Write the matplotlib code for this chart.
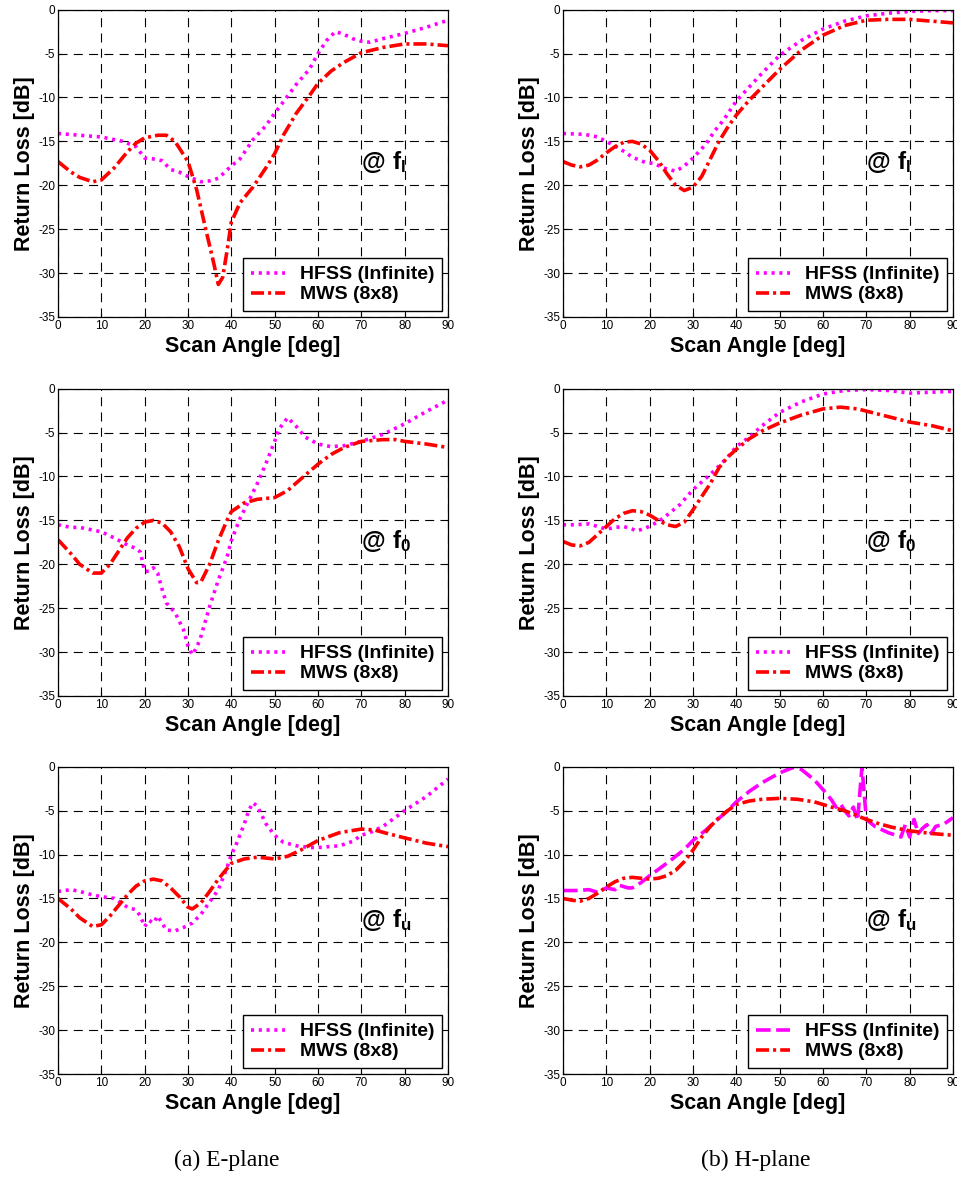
import numpy as np
import matplotlib.pyplot as plt

plt.rcParams['font.family'] = ['Liberation Sans', 'DejaVu Sans']
plt.rcParams['mathtext.fontset'] = 'custom'
plt.rcParams['mathtext.bf'] = 'Liberation Sans:bold'
plt.rcParams['mathtext.rm'] = 'Liberation Sans'
plt.rcParams['lines.scale_dashes'] = False
plt.rcParams['axes.unicode_minus'] = False

# ---- E-plane, f_l
e_l_hfss_x = [0, 5, 10, 15, 18, 20, 22, 24, 26, 28, 30, 33, 35, 37, 40, 42, 45, 48, 50, 52,
              55, 58, 60, 62, 64, 66, 68, 70, 72, 75, 80, 85, 90]
e_l_hfss_y = [-14.1, -14.3, -14.5, -15.0, -15.6, -16.9, -17.0, -17.2, -18.2, -18.5,
              -19.0, -19.6, -19.5, -19.2, -17.8, -17.0, -14.8, -13.2, -11.8, -10.5,
              -8.5, -6.8, -5.0, -3.5, -2.5, -2.8, -3.3, -3.6, -3.7, -3.3, -2.7, -2.0, -1.2]
e_l_mws_x = [0, 3, 5, 8, 10, 13, 16, 18, 20, 23, 25, 27, 30, 32, 34, 36, 37, 38, 39, 40,
             42, 45, 48, 50, 52, 55, 58, 60, 63, 66, 70, 75, 80, 85, 90]
e_l_mws_y = [-17.3, -18.5, -19.1, -19.6, -19.4, -18.0, -16.2, -15.2, -14.6, -14.3,
             -14.3, -15.0, -17.3, -20.5, -24.8, -29.0, -31.3, -30.5, -27.5, -24.2,
             -22.0, -20.2, -18.0, -16.4, -14.3, -11.8, -9.8, -8.4, -7.0, -6.0,
             -4.9, -4.3, -3.9, -3.9, -4.1]

# ---- H-plane, f_l
h_l_hfss_x = [0, 5, 8, 10, 13, 16, 19, 21, 23, 26, 28, 30, 33, 35, 37, 40, 43, 46, 50, 55,
              60, 65, 70, 75, 80, 85, 90]
h_l_hfss_y = [-14.1, -14.2, -14.5, -15.0, -15.8, -16.8, -17.4, -17.5, -18.0, -18.4,
              -17.8, -16.9, -15.3, -13.8, -12.6, -10.4, -8.8, -7.2, -5.2, -3.5,
              -2.2, -1.3, -0.7, -0.4, -0.2, -0.1, -0.1]
h_l_mws_x = [0, 2, 4, 6, 8, 10, 12, 14, 16, 18, 20, 22, 24, 26, 28, 30, 32, 34, 36, 38, 40,
             43, 46, 50, 55, 60, 65, 70, 75, 80, 85, 90]
h_l_mws_y = [-17.3, -17.7, -17.9, -17.7, -17.1, -16.3, -15.6, -15.1, -15.0, -15.3,
             -16.0, -17.2, -18.7, -20.0, -20.6, -20.2, -19.0, -17.0, -15.0, -13.4, -12.0,
             -10.3, -8.8, -6.8, -4.6, -2.9, -1.8, -1.2, -1.1, -1.1, -1.3, -1.5]

# ---- E-plane, f_0
e_0_hfss_x = [0, 3, 5, 8, 10, 13, 16, 18, 19, 20, 21, 22, 23, 24, 25, 27, 29, 30, 31, 32,
              33, 35, 37, 39, 40, 42, 44, 46, 48, 50, 51, 53, 55, 57, 60, 63, 66, 70, 75, 80,
              85, 90]
e_0_hfss_y = [-15.5, -15.8, -15.8, -16.1, -16.3, -17.0, -17.8, -18.2, -18.6, -20.8,
              -20.8, -20.4, -21.0, -22.8, -24.4, -25.5, -27.5, -29.3, -30.3, -29.5,
              -28.2, -24.8, -21.8, -19.2, -17.3, -14.8, -12.8, -10.8, -8.5, -6.0,
              -4.6, -3.3, -4.3, -5.5, -6.3, -6.6, -6.5, -6.0, -5.2, -4.0, -2.6, -1.3]
e_0_mws_x = [0, 3, 5, 8, 10, 12, 14, 16, 18, 20, 22, 24, 26, 28, 30, 32, 33, 35, 37, 39,
             40, 43, 46, 50, 53, 56, 60, 63, 66, 70, 75, 78, 80, 85, 90]
e_0_mws_y = [-17.2, -18.8, -20.0, -21.0, -21.0, -20.0, -18.5, -17.0, -15.9, -15.2,
             -15.0, -15.3, -16.3, -18.0, -20.5, -22.1, -22.0, -20.0, -17.3, -15.0,
             -14.0, -13.0, -12.6, -12.4, -11.6, -10.3, -8.6, -7.5, -6.7, -6.0,
             -5.8, -5.8, -6.0, -6.3, -6.7]

# ---- H-plane, f_0
h_0_hfss_x = [0, 3, 6, 8, 10, 12, 14, 16, 17, 19, 21, 23, 25, 27, 30, 33, 35, 38, 40, 43,
              46, 50, 55, 60, 65, 70, 75, 80, 85, 90]
h_0_hfss_y = [-15.5, -15.5, -15.4, -15.7, -16.0, -15.8, -15.7, -16.0, -16.2, -15.9,
              -15.4, -14.8, -14.0, -13.2, -11.5, -10.2, -9.3, -7.8, -6.6, -5.5,
              -4.2, -2.7, -1.5, -0.6, -0.2, -0.1, -0.2, -0.5, -0.4, -0.3]
h_0_mws_x = [0, 2, 4, 6, 8, 10, 12, 14, 16, 18, 20, 22, 24, 26, 28, 30, 32, 34, 36, 38, 40,
             43, 46, 50, 55, 60, 64, 68, 72, 76, 80, 85, 90]
h_0_mws_y = [-17.4, -17.8, -17.9, -17.5, -16.6, -15.7, -14.8, -14.2, -13.9, -14.0,
             -14.4, -15.0, -15.5, -15.7, -15.2, -13.8, -12.3, -10.8, -9.0, -7.8, -6.9,
             -5.7, -4.8, -3.9, -3.0, -2.3, -2.1, -2.3, -2.8, -3.3, -3.8, -4.2, -4.8]

# ---- E-plane, f_u
e_u_hfss_x = [0, 3, 5, 8, 10, 13, 16, 18, 19, 20, 21, 22, 23, 25, 27, 29, 31, 33, 35, 37,
              39, 40, 41, 43, 44, 45, 46, 48, 50, 52, 55, 58, 60, 65, 68, 70, 72, 75, 80, 85,
              90]
e_u_hfss_y = [-14.2, -14.0, -14.2, -14.6, -14.8, -15.0, -16.0, -16.3, -17.0, -18.2,
              -17.5, -17.8, -17.0, -18.6, -18.7, -18.3, -17.8, -16.8, -15.4, -14.0,
              -11.5, -10.0, -9.0, -6.5, -5.0, -4.1, -4.5, -6.5, -7.8, -8.6,
              -9.0, -9.2, -9.2, -9.0, -8.5, -7.8, -7.5, -6.8, -5.0, -3.4, -1.4]
e_u_mws_x = [0, 3, 5, 8, 10, 12, 14, 16, 18, 20, 22, 24, 26, 28, 30, 31, 33, 35, 37, 40,
             43, 46, 50, 53, 56, 60, 65, 70, 73, 76, 80, 85, 90]
e_u_mws_y = [-15.0, -16.2, -17.2, -18.2, -18.0, -17.0, -15.8, -14.6, -13.6, -13.0,
             -12.8, -13.0, -13.8, -14.8, -16.0, -16.2, -15.5, -14.2, -12.8, -11.0,
             -10.5, -10.3, -10.5, -10.2, -9.5, -8.4, -7.5, -7.1, -7.2, -7.6, -8.1, -8.7, -9.1]

# ---- H-plane, f_u
h_u_hfss_x = [0, 3, 6, 8, 10, 12, 13, 15, 16, 18, 20, 22, 25, 28, 30, 33, 35, 38, 40, 43,
              46, 50, 53, 55, 58, 60, 62, 63, 64, 65, 66, 67, 68, 68.5, 69, 69.5, 70, 72, 75, 78,
              79, 80, 81, 82, 83, 84, 85, 86, 88, 90]
h_u_hfss_y = [-14.1, -14.1, -14.0, -14.3, -13.8, -14.0, -13.5, -13.8, -13.8, -13.2,
              -12.4, -11.7, -10.6, -9.4, -8.4, -7.2, -6.3, -5.0, -4.0, -2.8,
              -1.8, -0.7, -0.1, -0.3, -1.5, -2.6, -3.8, -4.6, -4.2, -5.0,
              -5.6, -4.6, -6.1, -3.0, 0.0, -3.0, -6.0, -6.8, -7.5, -8.0,
              -6.6, -8.0, -6.0, -7.6, -7.0, -6.6, -7.6, -6.8, -6.5, -5.8]
h_u_mws_x = [0, 2, 4, 6, 8, 10, 12, 14, 16, 18, 20, 22, 24, 26, 28, 30, 32, 34, 36, 38, 40,
             43, 46, 50, 54, 58, 62, 65, 68, 70, 73, 76, 80, 85, 90]
h_u_mws_y = [-15.0, -15.2, -15.3, -15.0, -14.4, -13.7, -13.1, -12.7, -12.6, -12.7,
             -12.8, -12.7, -12.4, -11.8, -10.8, -9.5, -8.0, -6.8, -5.8, -5.0, -4.3,
             -3.9, -3.7, -3.6, -3.7, -4.0, -4.6, -5.0, -5.6, -6.0, -6.5, -6.9, -7.3, -7.6, -7.8]

DOTTED = (0, (2.2, 3.4))
DASHED = (0, (10.5, 4.0))
DASHDOT = (0, (9.4, 2.9, 2.2, 2.9))


def panel(ax, hx, hy, mx, my, sub, hstyle):
    ax.set_axisbelow(True)
    ax.plot(hx, hy, color='#ff00ff', lw=2.6, linestyle=hstyle, label='HFSS (Infinite)')
    ax.plot(mx, my, color='#ff0000', lw=2.6, linestyle=DASHDOT, label='MWS (8x8)')
    ax.set_xlim(0, 90)
    ax.set_ylim(-35, 0)
    ax.set_xticks(range(0, 91, 10))
    ax.set_yticks(range(-35, 1, 5))
    ax.grid(True, color='k', lw=0.8, linestyle=(0, (6.5, 4.5)))
    ax.tick_params(direction='in', labelsize=8.5, length=3, pad=2)
    for s in ax.spines.values():
        s.set_linewidth(0.9)
    ax.set_xlabel('Scan Angle [deg]', fontsize=15.5, fontweight='bold', labelpad=3)
    ax.set_ylabel('Return Loss [dB]', fontsize=15.5, fontweight='bold', labelpad=2)
    leg = ax.legend(loc='lower right', prop=dict(weight='bold', size=14), fancybox=False,
                    edgecolor='k', framealpha=1, handlelength=1.75, handletextpad=0.75,
                    borderpad=0.4, labelspacing=0.12, borderaxespad=0.3)
    leg.get_frame().set_linewidth(1.0)
    ax.text(70, -18.2, r'$\mathbf{@\ f_{%s}}$' % sub, fontsize=17.5, va='baseline')


fig = plt.figure(figsize=(9.57, 11.84), dpi=100)
lefts = [0.0606, 0.5883]
width = 0.4075
bottoms = [0.7323, 0.4122, 0.0929]
height = 0.2595

panels = [
    (e_l_hfss_x, e_l_hfss_y, e_l_mws_x, e_l_mws_y, 'l', DOTTED),
    (h_l_hfss_x, h_l_hfss_y, h_l_mws_x, h_l_mws_y, 'l', DOTTED),
    (e_0_hfss_x, e_0_hfss_y, e_0_mws_x, e_0_mws_y, '0', DOTTED),
    (h_0_hfss_x, h_0_hfss_y, h_0_mws_x, h_0_mws_y, '0', DOTTED),
    (e_u_hfss_x, e_u_hfss_y, e_u_mws_x, e_u_mws_y, 'u', DOTTED),
    (h_u_hfss_x, h_u_hfss_y, h_u_mws_x, h_u_mws_y, 'u', DASHED),
]
for i, p in enumerate(panels):
    ax = fig.add_axes([lefts[i % 2], bottoms[i // 2], width, height])
    panel(ax, *p)

fig.text(0.237, 1 - 1160 / 1184, '(a) E-plane', family='Liberation Serif', fontsize=17,
         ha='center', va='center')
fig.text(0.790, 1 - 1160 / 1184, '(b) H-plane', family='Liberation Serif', fontsize=17,
         ha='center', va='center')

fig.savefig('out.png', dpi=100)
